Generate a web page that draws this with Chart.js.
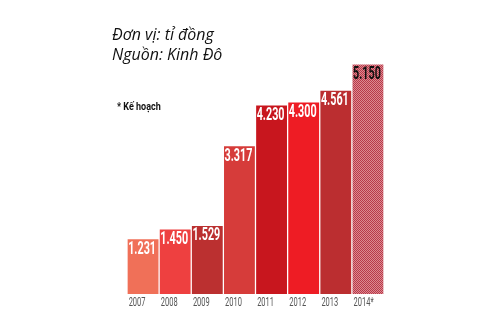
<!DOCTYPE html>
<html>
<head>
<meta charset="utf-8">
<script src="https://cdn.jsdelivr.net/npm/chart.js@4"></script>
<style>
    html, body { margin: 0; padding: 0; background: #fff; }
    #wrap { position: relative; width: 500px; height: 330px; }
    #chart { position: absolute; left: 0; top: 0; }
    .note { position: absolute; color: #111; white-space: nowrap; transform-origin: left top; }
    .unit { font-family: "Open Sans", sans-serif; font-style: italic; font-size: 17px; left: 112px; transform: scaleX(0.94); }
    .plan { font-family: Roboto, sans-serif; font-weight: bold; font-size: 11px; left: 117px; top: 100px; transform: scaleX(0.82); }
</style>
</head>
<body>
<div id="wrap">
    <canvas id="chart" width="500" height="330"></canvas>
    <div class="note unit" style="top:22px">Đơn vị: tỉ đồng</div>
    <div class="note unit" style="top:42px">Nguồn: Kinh Đô</div>
    <div class="note plan">* Kế hoạch</div>
</div>
<script>
// Data
const years = ['2007', '2008', '2009', '2010', '2011', '2012', '2013', '2014*'];
const revenue = [1231, 1450, 1529, 3317, 4230, 4300, 4561, 5150];
const barColors = ['#f07058', '#ee4040', '#bb3030', '#d63c3a', '#c8161e', '#ee1c24', '#bb2e30'];

// hatched fill for the planned year
function makePattern() {
    const c = document.createElement('canvas');
    c.width = 2; c.height = 2;
    const g = c.getContext('2d');
    g.fillStyle = '#dc8a90';
    g.fillRect(0, 0, 2, 2);
    g.fillStyle = '#b8384a';
    g.fillRect(0, 0, 1, 1);
    g.fillRect(1, 1, 1, 1);
    return g.createPattern(c, 'repeat');
}

const fmt = (v) => String(v).replace(/\B(?=(\d{3})+(?!\d))/g, '.');

// condensed text helper
function narrowText(ctx, text, x, y, font, color, sx) {
    ctx.save();
    ctx.translate(x, y);
    ctx.scale(sx, 1);
    ctx.font = font;
    ctx.textAlign = 'left';
    ctx.textBaseline = 'top';
    ctx.fillStyle = color;
    ctx.fillText(text, 0, 0);
    ctx.restore();
}

// value labels on bar tops + year labels under bars
const barLabels = {
    id: 'barLabels',
    afterDatasetsDraw(chart) {
        const ctx = chart.ctx;
        const meta = chart.getDatasetMeta(0);
        const bottom = chart.chartArea.bottom;
        meta.data.forEach((bar, i) => {
            const left = bar.x - bar.width / 2;
            const col = i === revenue.length - 1 ? '#111' : '#fff';
            narrowText(ctx, fmt(revenue[i]), left + 0.5, bar.y + 1, 'bold 18px Roboto, sans-serif', col, 0.6);
            narrowText(ctx, years[i], left + 1, bottom + 3, '12.5px Roboto, sans-serif', '#555', 0.6);
        });
    }
};

const ctx = document.getElementById('chart').getContext('2d');
const chart = new Chart(ctx, {
    type: 'bar',
    data: {
        labels: years,
        datasets: [{
            data: revenue,
            backgroundColor: barColors.concat([makePattern()]),
            borderWidth: 0,
            barPercentage: 0.96,
            categoryPercentage: 1
        }]
    },
    options: {
        responsive: false,
        animation: false,
        layout: { padding: { left: 127, right: 116, top: 0, bottom: 36 } },
        plugins: { legend: { display: false }, tooltip: { enabled: false } },
        scales: {
            x: { display: false },
            y: {
                display: false,
                min: 0,
                max: 6600
            }
        }
    },
    plugins: [barLabels]
});
</script>
</body>
</html>
